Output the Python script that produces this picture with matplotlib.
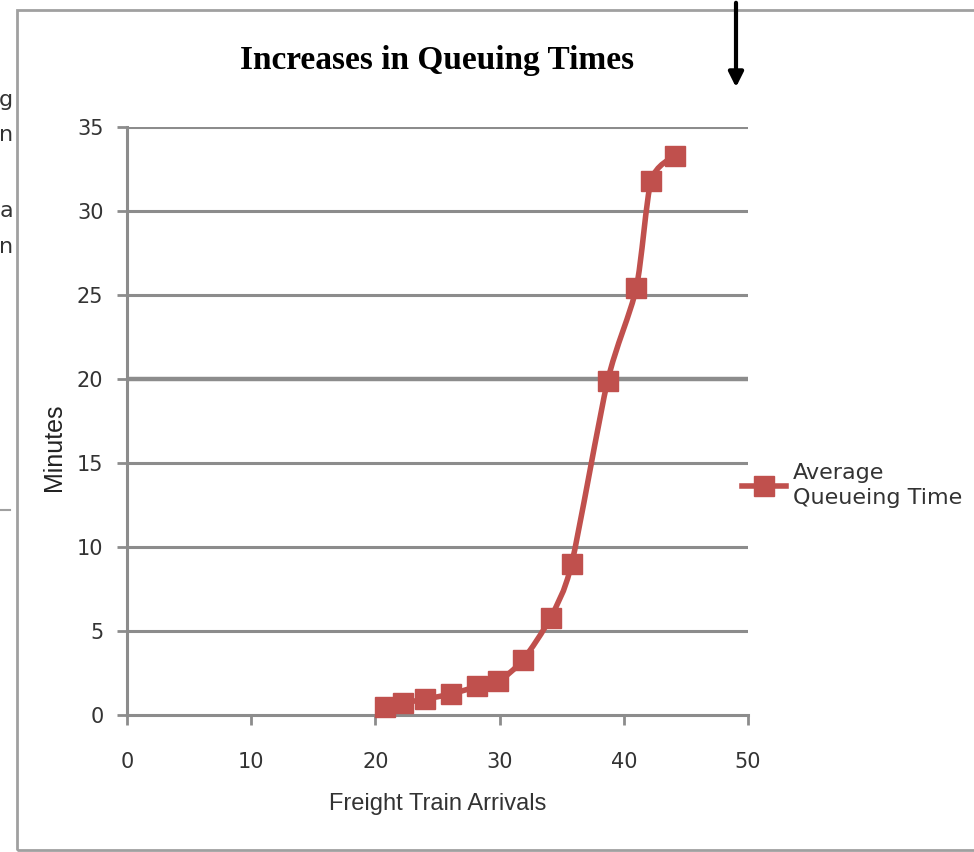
import numpy as np
import matplotlib
matplotlib.use("Agg")
import matplotlib.pyplot as plt
from matplotlib.path import Path
from matplotlib.patches import PathPatch, Rectangle, FancyArrowPatch
from matplotlib.lines import Line2D

# data
arrivals = [20.8, 22.2, 24.0, 26.1, 28.2, 29.9, 31.9, 34.1, 35.8, 38.7, 41.0, 42.2, 44.1]
minutes = [0.5, 0.7, 0.95, 1.25, 1.7, 2.0, 3.3, 5.8, 9.0, 19.9, 25.4, 31.8, 33.3]
x_ticks = [0, 10, 20, 30, 40, 50]
y_ticks = [0, 5, 10, 15, 20, 25, 30, 35]

RED = "#c0504d"
GRID = "#8c8c8c"


def smooth_path(xs, ys, tension=1 / 8):
    """Catmull-Rom style bezier through the points (Excel 'smoothed line')."""
    pts = np.column_stack([xs, ys])
    verts = [pts[0]]
    codes = [Path.MOVETO]
    n = len(pts)
    for i in range(n - 1):
        p0 = pts[max(i - 1, 0)]
        p1 = pts[i]
        p2 = pts[i + 1]
        p3 = pts[min(i + 2, n - 1)]
        c1 = p1 + (p2 - p0) * tension
        c2 = p2 - (p3 - p1) * tension
        verts += [c1, c2, p2]
        codes += [Path.CURVE4] * 3
    return Path(verts, codes)


fig = plt.figure(figsize=(9.74, 8.52), dpi=100)
W, H = 974, 852

# outer frame of the screenshot
fig.add_artist(Rectangle((17 / W, 1 - 850 / H), 1.0, (850 - 10) / H,
                         transform=fig.transFigure, fill=False,
                         edgecolor="#a0a0a0", linewidth=2))
fig.add_artist(Line2D([0, 10 / W], [1 - 510 / H, 1 - 510 / H],
                      transform=fig.transFigure, color="#a0a0a0", linewidth=1.5))
for txt, yy in [("g", 100), ("n", 135), ("a", 211), ("n", 247)]:
    fig.text(13 / W, 1 - yy / H, txt, ha="right", va="center", fontsize=16,
             color="#333333", family="DejaVu Sans")

ax = fig.add_axes([127 / W, 1 - 715 / H, (748 - 127) / W, (715 - 127) / H])
ax.set_xlim(0, 50)
ax.set_ylim(0, 35)
ax.set_xticks(x_ticks)
ax.set_yticks(y_ticks)

for y in y_ticks[1:]:
    ax.axhline(y, color=GRID, linewidth=3.2 if y == 20 else 2.2, zorder=1)

for side in ["top", "right"]:
    ax.spines[side].set_visible(False)
for side in ["left", "bottom"]:
    ax.spines[side].set_color(GRID)
    ax.spines[side].set_linewidth(2.2)
ax.tick_params(axis="both", color=GRID, width=2, length=7, direction="out",
               labelsize=15, labelcolor="#333333")
ax.tick_params(axis="x", pad=20)
ax.tick_params(axis="y", pad=10)
for lab in ax.get_xticklabels() + ax.get_yticklabels():
    lab.set_family("DejaVu Sans")

ax.add_patch(PathPatch(smooth_path(arrivals, minutes), facecolor="none",
                       edgecolor=RED, linewidth=4, zorder=3, clip_on=False))
ax.plot(arrivals, minutes, linestyle="none", marker="s", markersize=14,
        color=RED, zorder=4, clip_on=False)

ax.set_xlabel("Freight Train Arrivals", fontsize=17, family="Liberation Sans",
              color="#333333", labelpad=15)
ax.set_ylabel("Minutes", fontsize=18, family="Liberation Sans",
              color="#222222")
ax.yaxis.set_label_coords(-0.098, 0.455)

ax.set_title("Increases in Queuing Times", fontsize=24, fontweight="bold",
             family="Liberation Serif", pad=42)

handle = Line2D([], [], color=RED, linewidth=4, marker="s", markersize=14)
ax.legend([handle], ["Average\nQueueing Time"], loc="center left",
          bbox_to_anchor=(0.965, 0.39), frameon=False,
          handlelength=2.0, handletextpad=0.3, borderaxespad=0.3,
          prop={"family": "DejaVu Sans", "size": 16})
for t in ax.get_legend().get_texts():
    t.set_color("#333333")
    t.set_linespacing(1.35)

# black arrow at top right
fig.add_artist(FancyArrowPatch((736 / W, 1.0), (736 / W, 1 - 90 / H),
                               transform=fig.transFigure, arrowstyle="-|>",
                               mutation_scale=22, color="black", linewidth=3))

fig.savefig("out.png", dpi=100)
